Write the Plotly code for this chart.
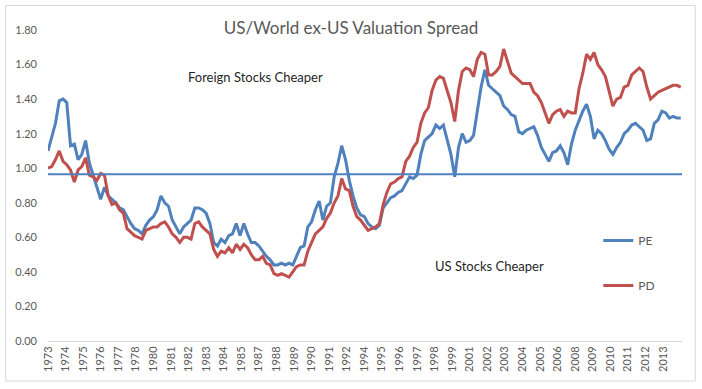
import pandas as pd
import plotly.graph_objects as go

# Quarterly readings, Q1 1973 .. Q1 2015
pe_values = [
    1.10, 1.18, 1.26, 1.39,   # 1973
    1.40, 1.38, 1.13, 1.14,   # 1974
    1.05, 1.08, 1.16, 1.03,   # 1975
    0.96, 0.88, 0.82, 0.89,   # 1976
    0.84, 0.82, 0.80, 0.77,   # 1977
    0.76, 0.72, 0.68, 0.65,   # 1978
    0.64, 0.62, 0.67, 0.70,   # 1979
    0.72, 0.76, 0.84, 0.80,   # 1980
    0.78, 0.70, 0.66, 0.62,   # 1981
    0.66, 0.68, 0.70, 0.77,   # 1982
    0.77, 0.76, 0.74, 0.68,   # 1983
    0.57, 0.55, 0.59, 0.57,   # 1984
    0.61, 0.62, 0.68, 0.61,   # 1985
    0.68, 0.62, 0.57, 0.57,   # 1986
    0.55, 0.52, 0.49, 0.47,   # 1987
    0.44, 0.44, 0.45, 0.44,   # 1988
    0.45, 0.44, 0.49, 0.54,   # 1989
    0.55, 0.66, 0.69, 0.76,   # 1990
    0.81, 0.70, 0.78, 0.80,   # 1991
    0.95, 1.03, 1.13, 1.05,   # 1992
    0.93, 0.84, 0.77, 0.73,   # 1993
    0.72, 0.68, 0.66, 0.65,   # 1994
    0.67, 0.77, 0.80, 0.83,   # 1995
    0.84, 0.86, 0.87, 0.91,   # 1996
    0.95, 0.94, 0.96, 1.08,   # 1997
    1.16, 1.18, 1.20, 1.25,   # 1998
    1.23, 1.25, 1.17, 1.08,   # 1999
    0.95, 1.12, 1.20, 1.15,   # 2000
    1.16, 1.19, 1.33, 1.47,   # 2001
    1.57, 1.48, 1.46, 1.44,   # 2002
    1.42, 1.36, 1.34, 1.31,   # 2003
    1.30, 1.21, 1.20, 1.22,   # 2004
    1.23, 1.24, 1.19, 1.12,   # 2005
    1.08, 1.04, 1.09, 1.10,   # 2006
    1.13, 1.09, 1.02, 1.14,   # 2007
    1.22, 1.28, 1.33, 1.37,   # 2008
    1.30, 1.17, 1.22, 1.20,   # 2009
    1.16, 1.11, 1.08, 1.12,   # 2010
    1.15, 1.20, 1.22, 1.25,   # 2011
    1.26, 1.24, 1.22, 1.16,   # 2012
    1.17, 1.26, 1.28, 1.33,   # 2013
    1.32, 1.29, 1.30, 1.29,   # 2014
    1.29,                     # 2015
]

pd_values = [
    1.00, 1.01, 1.05, 1.10,   # 1973
    1.04, 1.02, 0.99, 0.92,   # 1974
    0.99, 1.01, 1.06, 0.96,   # 1975
    0.95, 0.93, 0.97, 0.96,   # 1976
    0.84, 0.79, 0.80, 0.76,   # 1977
    0.74, 0.65, 0.63, 0.61,   # 1978
    0.60, 0.59, 0.64, 0.65,   # 1979
    0.66, 0.66, 0.68, 0.69,   # 1980
    0.66, 0.62, 0.60, 0.57,   # 1981
    0.60, 0.60, 0.59, 0.68,   # 1982
    0.69, 0.66, 0.64, 0.62,   # 1983
    0.53, 0.49, 0.52, 0.51,   # 1984
    0.54, 0.51, 0.56, 0.53,   # 1985
    0.56, 0.54, 0.50, 0.47,   # 1986
    0.47, 0.49, 0.45, 0.44,   # 1987
    0.39, 0.38, 0.39, 0.38,   # 1988
    0.37, 0.40, 0.43, 0.44,   # 1989
    0.44, 0.52, 0.57, 0.62,   # 1990
    0.64, 0.66, 0.71, 0.74,   # 1991
    0.80, 0.84, 0.94, 0.88,   # 1992
    0.87, 0.78, 0.72, 0.70,   # 1993
    0.67, 0.64, 0.65, 0.66,   # 1994
    0.68, 0.79, 0.86, 0.91,   # 1995
    0.92, 0.94, 0.95, 1.04,   # 1996
    1.07, 1.12, 1.15, 1.26,   # 1997
    1.32, 1.35, 1.45, 1.51,   # 1998
    1.53, 1.52, 1.45, 1.38,   # 1999
    1.27, 1.45, 1.56, 1.58,   # 2000
    1.57, 1.53, 1.63, 1.67,   # 2001
    1.66, 1.54, 1.54, 1.56,   # 2002
    1.59, 1.69, 1.62, 1.55,   # 2003
    1.53, 1.51, 1.49, 1.49,   # 2004
    1.49, 1.44, 1.42, 1.38,   # 2005
    1.32, 1.26, 1.31, 1.33,   # 2006
    1.34, 1.30, 1.33, 1.32,   # 2007
    1.32, 1.46, 1.55, 1.66,   # 2008
    1.63, 1.67, 1.60, 1.57,   # 2009
    1.53, 1.44, 1.36, 1.40,   # 2010
    1.41, 1.47, 1.48, 1.54,   # 2011
    1.56, 1.58, 1.56, 1.47,   # 2012
    1.40, 1.42, 1.44, 1.45,   # 2013
    1.46, 1.47, 1.48, 1.48,   # 2014
    1.47,                     # 2015
]

reference_level = 0.965          # the flat blue line
tick_years = [1973, 1974, 1975, 1976, 1977, 1978, 1980, 1981, 1982, 1983,
              1984, 1985, 1987, 1988, 1989, 1990, 1991, 1992, 1994, 1995,
              1996, 1997, 1998, 1999, 2001, 2002, 2003, 2004, 2005, 2006,
              2008, 2009, 2010, 2011, 2012, 2013]

dates = pd.date_range("1973-01-01", periods=len(pe_values), freq="QS")
tick_dates = pd.date_range("1973-01-01", periods=len(tick_years), freq="14MS")
x_start, x_end = "1973-01-01", "2015-02-01"

BLUE = "#4F81BD"
RED = "#C0504D"
GRAY_TXT = "#595959"
FONT = "Lato"

fig = go.Figure()
fig.add_trace(go.Scatter(x=dates, y=pe_values, name="PE", mode="lines",
                         line=dict(color=BLUE, width=3), legendgroup="pe"))
fig.add_trace(go.Scatter(x=dates, y=pd_values, name="PD", mode="lines",
                         line=dict(color=RED, width=3), legendgroup="pd"))
fig.add_trace(go.Scatter(x=[x_start, x_end], y=[reference_level, reference_level],
                         mode="lines", line=dict(color=BLUE, width=2),
                         showlegend=False, hoverinfo="skip"))

fig.update_layout(
    width=702, height=389,
    margin=dict(l=48, r=20, t=30, b=48),
    paper_bgcolor="white", plot_bgcolor="white",
    font=dict(family=FONT, color=GRAY_TXT, size=11),
    title=dict(text="US/World ex-US Valuation Spread", x=0.5, xanchor="center",
               y=1 - 28 / 389, yanchor="middle",
               font=dict(family=FONT, size=17, color=GRAY_TXT)),
    showlegend=True,
    legend=dict(x=0.868, y=0.37, xanchor="left", yanchor="top",
                bgcolor="rgba(0,0,0,0)", tracegroupgap=26,
                font=dict(family=FONT, size=12, color=GRAY_TXT)),
    xaxis=dict(type="date", range=[x_start, x_end], tickmode="array",
               tickvals=tick_dates, ticktext=[str(y) for y in tick_years],
               tickangle=-90, showgrid=False, zeroline=False,
               showline=True, linecolor="#D9D9D9", linewidth=1,
               ticks="", tickfont=dict(size=11, color=GRAY_TXT)),
    yaxis=dict(range=[0, 1.8], tickmode="array",
               tickvals=[0, 0.2, 0.4, 0.6, 0.8, 1.0, 1.2, 1.4, 1.6, 1.8],
               tickformat=".2f", showgrid=False, zeroline=False,
               showline=False, ticks="", ticklabelstandoff=10,
               tickfont=dict(size=11, color=GRAY_TXT)),
    annotations=[
        dict(text="Foreign Stocks Cheaper", xref="paper", yref="paper",
             x=0.328, y=0.850, xanchor="center", yanchor="middle",
             showarrow=False,
             font=dict(family=FONT, size=13, color="#262626")),
        dict(text="US Stocks Cheaper", xref="paper", yref="paper",
             x=0.697, y=0.2415, xanchor="center", yanchor="middle",
             showarrow=False,
             font=dict(family=FONT, size=13, color="#262626")),
    ],
    shapes=[dict(type="rect", xref="paper", yref="paper",
                 x0=-0.0668, x1=1.021, y0=-0.1288, y1=1.079,
                 line=dict(color="#D9D9D9", width=1), fillcolor="rgba(0,0,0,0)",
                 layer="below")],
)

fig.write_html("out.html",
               config={"displayModeBar": False},
               post_script="document.body.style.margin='0px';"
                           "document.body.style.overflow='hidden';")
